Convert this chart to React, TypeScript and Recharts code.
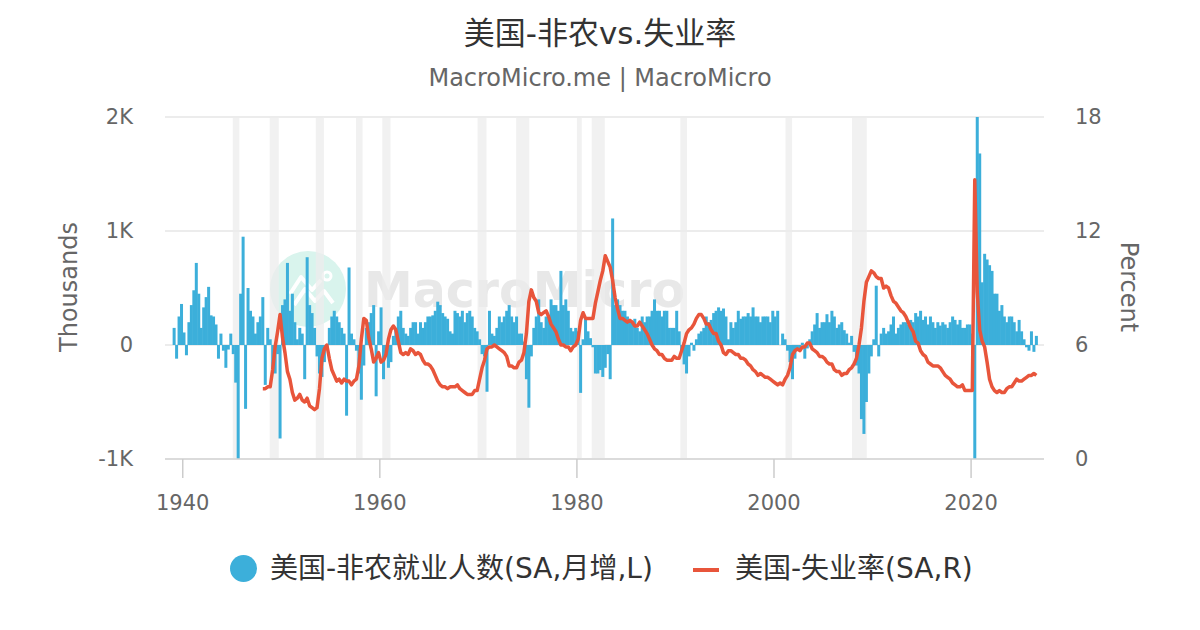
import React from 'react';
import { ComposedChart, Bar, Line, XAxis, YAxis, CartesianGrid, ReferenceArea } from 'recharts';

// Nonfarm payrolls, monthly change (thousands), one value per quarter from 1939 Q1
const payrolls: number[] = [
  150, -120, 250, 360, // 1939
  110, -90, 200, 350, // 1940
  480, 720, 450, 150, // 1941
  330, 420, 510, 260, // 1942
  250, 180, -120, 100, // 1943
  -50, -200, -40, 100, // 1944
  -80, -330, -1900, 450, // 1945
  950, -560, 500, 300, // 1946
  250, 100, 200, 250, // 1947
  420, -350, 150, 50, // 1948
  -200, -250, -80, -820, // 1949
  350, 400, 720, 300, // 1950
  450, 200, 50, 150, // 1951
  100, -300, 770, 350, // 1952
  280, 150, -100, -250, // 1953
  -280, -150, -30, 150, // 1954
  250, 300, 250, 200, // 1955
  150, 100, -620, 680, // 1956
  100, 50, -50, -250, // 1957
  -480, -180, 150, 200, // 1958
  280, 350, -450, 120, // 1959
  330, -300, -80, -200, // 1960
  -150, 80, 150, 250, // 1961
  300, 150, 100, 80, // 1962
  150, 200, 200, 100, // 1963
  200, 150, 200, 250, // 1964
  250, 260, 300, 380, // 1965
  350, 280, 250, 230, // 1966
  120, 100, 300, 280, // 1967
  250, 300, 200, 280, // 1968
  300, 250, 150, 120, // 1969
  50, -80, -100, -410, // 1970
  300, 100, 80, 150, // 1971
  250, 200, 250, 300, // 1972
  350, 250, 200, 250, // 1973
  100, 100, 30, -300, // 1974
  -550, -100, 150, 250, // 1975
  400, 200, 150, 250, // 1976
  250, 400, 350, 350, // 1977
  300, 650, 350, 400, // 1978
  300, 150, 120, 150, // 1979
  120, -420, 50, 230, // 1980
  120, 60, -20, -250, // 1981
  -250, -220, -280, -200, // 1982
  -80, -300, 1110, 350, // 1983
  400, 350, 300, 300, // 1984
  250, 220, 200, 230, // 1985
  150, 120, 250, 200, // 1986
  250, 250, 300, 400, // 1987
  300, 300, 250, 300, // 1988
  300, 150, 150, 150, // 1989
  300, 120, -60, -170, // 1990
  -250, -100, 20, -50, // 1991
  50, 100, 120, 150, // 1992
  250, 200, 220, 280, // 1993
  300, 330, 300, 320, // 1994
  250, 50, 200, 150, // 1995
  200, 300, 230, 250, // 1996
  250, 280, 250, 330, // 1997
  250, 250, 200, 250, // 1998
  250, 250, 200, 300, // 1999
  250, 300, 0, 100, // 2000
  50, -50, -150, -300, // 2001
  -120, -30, -50, 20, // 2002
  -120, -30, 50, 120, // 2003
  180, 280, 150, 200, // 2004
  200, 270, 200, 300, // 2005
  250, 150, 180, 200, // 2006
  130, 100, 20, 80, // 2007
  -60, -180, -250, -650, // 2008
  -780, -500, -250, -100, // 2009
  50, 520, -100, 100, // 2010
  150, 100, 120, 180, // 2011
  250, 100, 150, 180, // 2012
  200, 200, 180, 220, // 2013
  200, 280, 250, 300, // 2014
  220, 250, 180, 250, // 2015
  200, 150, 200, 170, // 2016
  200, 180, 150, 200, // 2017
  250, 220, 180, 220, // 2018
  150, 150, 180, 180, // 2019
  100, -20500, 4600, 1680, // 2020
  550, 800, 750, 700, // 2021
  650, 450, 450, 300, // 2022
  350, 250, 200, 250, // 2023
  250, 200, 120, 220, // 2024
  120, 50, -20, -50, // 2025
  120, -60, 80, // 2026
];

// Unemployment rate (%), one value per quarter from 1948 Q1
const unemployment: number[] = [
  3.7, 3.7, 3.8, 3.8, // 1948
  4.7, 5.9, 6.7, 7.6, // 1949
  6.4, 5.6, 4.6, 4.2, // 1950
  3.5, 3.1, 3.2, 3.4, // 1951
  3.1, 3.0, 3.2, 2.8, // 1952
  2.7, 2.6, 2.7, 3.7, // 1953
  5.3, 5.8, 6.0, 5.3, // 1954
  4.7, 4.4, 4.1, 4.2, // 1955
  4.0, 4.2, 4.1, 4.1, // 1956
  3.9, 4.1, 4.2, 4.9, // 1957
  6.3, 7.4, 7.3, 6.4, // 1958
  5.8, 5.1, 5.3, 5.6, // 1959
  5.1, 5.2, 5.5, 6.3, // 1960
  6.8, 7.0, 6.8, 6.2, // 1961
  5.6, 5.5, 5.6, 5.5, // 1962
  5.8, 5.7, 5.5, 5.6, // 1963
  5.5, 5.2, 5.0, 5.0, // 1964
  4.9, 4.7, 4.4, 4.1, // 1965
  3.9, 3.8, 3.8, 3.7, // 1966
  3.8, 3.8, 3.8, 3.9, // 1967
  3.7, 3.6, 3.5, 3.4, // 1968
  3.4, 3.4, 3.6, 3.6, // 1969
  4.2, 4.8, 5.2, 5.8, // 1970
  5.9, 5.9, 6.0, 5.9, // 1971
  5.8, 5.7, 5.6, 5.4, // 1972
  4.9, 4.9, 4.8, 4.8, // 1973
  5.1, 5.2, 5.6, 6.6, // 1974
  8.3, 8.9, 8.5, 8.3, // 1975
  7.7, 7.6, 7.7, 7.8, // 1976
  7.5, 7.1, 6.9, 6.7, // 1977
  6.3, 6.0, 6.0, 5.9, // 1978
  5.9, 5.7, 5.9, 6.0, // 1979
  6.3, 7.3, 7.7, 7.4, // 1980
  7.4, 7.4, 7.4, 8.2, // 1981
  8.8, 9.4, 9.9, 10.7, // 1982
  10.4, 10.1, 9.4, 8.5, // 1983
  7.9, 7.4, 7.4, 7.3, // 1984
  7.2, 7.3, 7.2, 7.0, // 1985
  7.0, 7.2, 7.0, 6.8, // 1986
  6.6, 6.3, 6.0, 5.8, // 1987
  5.7, 5.5, 5.5, 5.3, // 1988
  5.2, 5.2, 5.2, 5.4, // 1989
  5.3, 5.3, 5.7, 6.1, // 1990
  6.6, 6.8, 6.9, 7.1, // 1991
  7.4, 7.6, 7.6, 7.4, // 1992
  7.1, 7.1, 6.8, 6.6, // 1993
  6.6, 6.2, 6.0, 5.6, // 1994
  5.5, 5.7, 5.7, 5.6, // 1995
  5.5, 5.5, 5.3, 5.3, // 1996
  5.2, 5.0, 4.9, 4.7, // 1997
  4.6, 4.4, 4.5, 4.4, // 1998
  4.3, 4.3, 4.2, 4.1, // 1999
  4.0, 3.9, 4.0, 3.9, // 2000
  4.2, 4.4, 4.8, 5.5, // 2001
  5.7, 5.8, 5.7, 5.9, // 2002
  5.9, 6.1, 6.1, 5.8, // 2003
  5.7, 5.6, 5.4, 5.4, // 2004
  5.3, 5.1, 5.0, 5.0, // 2005
  4.7, 4.6, 4.6, 4.4, // 2006
  4.5, 4.5, 4.7, 4.8, // 2007
  5.0, 5.3, 6.0, 6.9, // 2008
  8.3, 9.3, 9.6, 9.9, // 2009
  9.8, 9.6, 9.5, 9.5, // 2010
  9.0, 9.1, 9.0, 8.6, // 2011
  8.3, 8.2, 8.0, 7.8, // 2012
  7.7, 7.5, 7.2, 6.9, // 2013
  6.7, 6.2, 6.1, 5.7, // 2014
  5.5, 5.4, 5.1, 5.0, // 2015
  4.9, 4.9, 4.9, 4.8, // 2016
  4.6, 4.4, 4.3, 4.2, // 2017
  4.0, 3.9, 3.8, 3.8, // 2018
  3.9, 3.6, 3.6, 3.6, // 2019
  3.6, 14.7, 8.8, 6.8, // 2020
  6.2, 5.9, 5.1, 4.2, // 2021
  3.8, 3.6, 3.5, 3.6, // 2022
  3.5, 3.5, 3.7, 3.8, // 2023
  3.8, 4.0, 4.2, 4.1, // 2024
  4.1, 4.2, 4.3, 4.4, // 2025
  4.4, 4.5, 4.4, // 2026
];

const payrollStart = 1939;
const unemploymentStart = 1948;

// NBER recessions (decimal years)
const recessions: [number, number][] = [
  [1945.08, 1945.75],
  [1948.83, 1949.75],
  [1953.5, 1954.33],
  [1957.58, 1958.25],
  [1960.25, 1961.08],
  [1969.92, 1970.83],
  [1973.83, 1975.17],
  [1980.0, 1980.5],
  [1981.5, 1982.83],
  [1990.5, 1991.17],
  [2001.17, 2001.83],
  [2007.92, 2009.42],
];

const yearTicks = [1940, 1960, 1980, 2000, 2020];
const leftTicks = [-1000, 0, 1000, 2000];
const rightTicks = [0, 6, 12, 18];

const BLUE = '#3cafda';
const RED = '#e8553b';
const FONT = "'DejaVu Sans', 'Noto Sans CJK SC', sans-serif";

const offset = (unemploymentStart - payrollStart) * 4;
const rows = payrolls.map((v, i) => {
  const j = i - offset;
  return {
    x: payrollStart + i / 4 + 0.125,
    payrolls: v,
    unemployment: j >= 0 && j < unemployment.length ? unemployment[j] : null,
  };
});

const BarShape = (props: any) => {
  const { x, y, width, height, fill } = props;
  if (x == null || y == null || isNaN(x) || isNaN(y)) return null;
  const cx = x + width / 2;
  const top = Math.min(y, y + height);
  return <rect x={cx - 1.5} y={top} width={3} height={Math.abs(height)} fill={fill} />;
};

const kFormat = (v: number) => (v === 0 ? '0' : `${v / 1000}K`);

export default function App() {
  return (
    <div style={{ position: 'absolute', left: 0, top: 0, width: 1200, height: 630, fontFamily: FONT, background: '#fff', overflow: 'hidden' }}>
      <div style={{ position: 'absolute', top: 13, width: 1200, textAlign: 'center', fontSize: 31, lineHeight: '40px', color: '#333' }}>
        美国-非农vs.失业率
      </div>
      <div style={{ position: 'absolute', top: 62, width: 1200, textAlign: 'center', fontSize: 24, lineHeight: '32px', color: '#666' }}>
        MacroMicro.me | MacroMicro
      </div>

      {/* watermark */}
      <svg width={1200} height={630} style={{ position: 'absolute', left: 0, top: 0 }}>
        <circle cx={308} cy={289} r={38} fill="#d9f4ed" />
        <polyline points="290,294 301,277 312,290 321,280" fill="none" stroke="#fff" strokeWidth={4} strokeLinejoin="round" />
        <polyline points="294,305 305,289 315,301 324,291 333,303" fill="none" stroke="#fff" strokeWidth={4} strokeLinejoin="round" />
        <circle cx={327} cy={276} r={4} fill="none" stroke="#fff" strokeWidth={3} />
        <text x={364} y={307} fontSize={49} fontWeight="bold" fill="#e8e8e8" fontFamily={FONT}>MacroMicro</text>
      </svg>

      <div style={{ position: 'absolute', left: 0, top: 0 }}>
        <ComposedChart width={1200} height={630} data={rows} margin={{ top: 117, right: 0, bottom: 111, left: 0 }}>
          <CartesianGrid yAxisId="left" vertical={false} stroke="#e6e6e6" strokeWidth={1.5} />
          <XAxis
            dataKey="x"
            type="number"
            domain={[1938.2, 2027.4]}
            allowDataOverflow
            ticks={yearTicks}
            height={60}
            tickSize={19}
            tickMargin={17}
            tickLine={{ stroke: '#cccccc', strokeWidth: 1.5 }}
            axisLine={{ stroke: '#d6d6d6', strokeWidth: 1.5 }}
            tick={{ fill: '#666', fontSize: 21 }}
          />
          <YAxis
            yAxisId="left"
            width={165}
            domain={[-1000, 2000]}
            allowDataOverflow
            ticks={leftTicks}
            tickFormatter={kFormat}
            axisLine={false}
            tickLine={false}
            tickMargin={26}
            tick={{ fill: '#666', fontSize: 21 }}
          />
          <YAxis
            yAxisId="right"
            orientation="right"
            width={156}
            domain={[0, 18]}
            allowDataOverflow
            ticks={rightTicks}
            axisLine={false}
            tickLine={false}
            tickMargin={25}
            tick={{ fill: '#666', fontSize: 21 }}
          />
          {recessions.map(([a, b]) => (
            <ReferenceArea key={a} yAxisId="left" x1={a} x2={b} fill="#ececec" fillOpacity={0.75} stroke="none" ifOverflow="hidden" />
          ))}
          <Bar yAxisId="left" dataKey="payrolls" fill={BLUE} isAnimationActive={false} shape={BarShape} />
          <Line
            yAxisId="right"
            dataKey="unemployment"
            type="linear"
            stroke={RED}
            strokeWidth={3.5}
            dot={false}
            isAnimationActive={false}
            strokeLinejoin="round"
          />
        </ComposedChart>
      </div>

      {/* axis titles */}
      <div style={{ position: 'absolute', left: 69, top: 287, transform: 'translate(-50%, -50%) rotate(-90deg)', fontSize: 24, color: '#666', whiteSpace: 'nowrap' }}>
        Thousands
      </div>
      <div style={{ position: 'absolute', left: 1129, top: 287, transform: 'translate(-50%, -50%) rotate(90deg)', fontSize: 24, color: '#666', whiteSpace: 'nowrap' }}>
        Percent
      </div>

      {/* legend */}
      <div style={{ position: 'absolute', left: 230, top: 555, width: 27, height: 27, borderRadius: '50%', background: BLUE }} />
      <div style={{ position: 'absolute', left: 270, top: 552, fontSize: 28, lineHeight: '34px', color: '#333', whiteSpace: 'nowrap' }}>
        美国-非农就业人数(SA,月增,L)
      </div>
      <div style={{ position: 'absolute', left: 693, top: 568, width: 26, height: 4, background: RED }} />
      <div style={{ position: 'absolute', left: 735, top: 552, fontSize: 28, lineHeight: '34px', color: '#333', whiteSpace: 'nowrap' }}>
        美国-失业率(SA,R)
      </div>
    </div>
  );
}
